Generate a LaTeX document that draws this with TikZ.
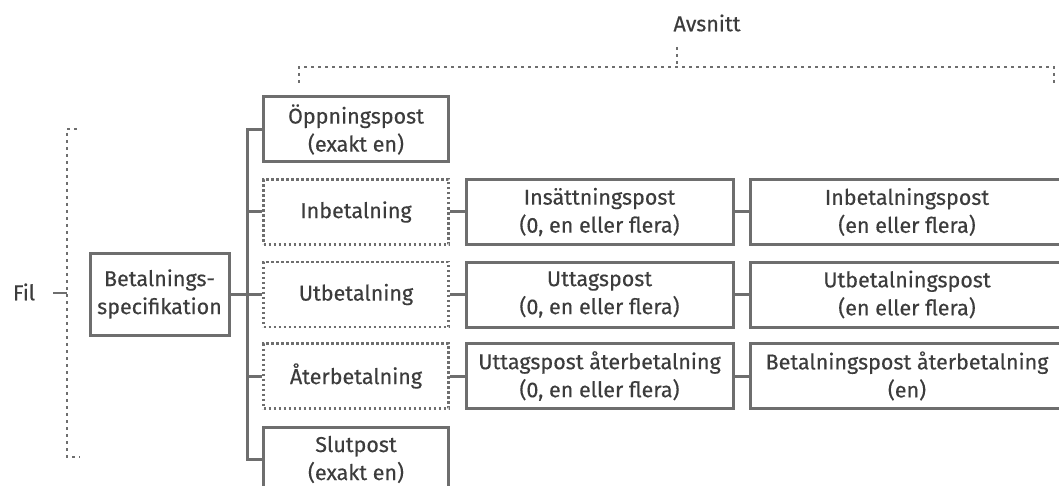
\documentclass[tikz,border=0pt]{standalone}
\usepackage{fontspec}
\setmainfont{Fira Sans}[FakeBold=0.35]
\definecolor{linegray}{HTML}{6E6E6E}
\definecolor{textgray}{HTML}{3C3C3C}
\begin{document}
\begin{tikzpicture}[x=1pt,y=-1pt,
  every node/.style={text=textgray,font=\fontsize{21.5}{28}\selectfont},
  box/.style={draw=linegray,line width=3pt,rectangle,inner sep=0pt,align=center,minimum height=65pt},
  colA/.style={box,minimum width=185pt},
  colB/.style={box,minimum width=267pt},
  colC/.style={box,minimum width=314pt},
  optbox/.style={colA,line width=2.6pt,dash pattern=on 2.4pt off 2.6pt},
  conn/.style={draw=linegray,line width=3pt},
  brk/.style={draw=linegray,line width=2.8pt,dash pattern=on 2.8pt off 4.2pt}]
\useasboundingbox (0,0) rectangle (1059,486);
% labels
\node (avsnitt) at (707,23) {Avsnitt};
\node (fil) at (24,292) {Fil};
% left main box
\node[box,minimum width=139pt,minimum height=82pt] (bs) at (159.5,294) {Betalnings-\\specifikation};
% column A
\node[colA] (op) at (356,129.5) {Öppningspost\\(exakt en)};
\node[optbox] (inb) at (356,212) {Inbetalning};
\node[optbox] (utb) at (356,294.5) {Utbetalning};
\node[optbox] (ater) at (356,376) {Återbetalning};
\node[colA] (slut) at (356,459.5) {Slutpost\\(exakt en)};
% column B
\node[colB] (ins) at (599.5,212) {Insättningspost\\(0, en eller flera)};
\node[colB] (utt) at (599.5,294.5) {Uttagspost\\(0, en eller flera)};
\node[colB] (utta) at (599.5,376) {Uttagspost återbetalning\\(0, en eller flera)};
% column C
\node[colC] (inp) at (907,212) {Inbetalningspost\\(en eller flera)};
\node[colC] (utp) at (907,294.5) {Utbetalningspost\\(en eller flera)};
\node[colC] (bpa) at (907,376) {Betalningspost återbetalning\\(en)};
% trunk
\coordinate (tt) at (247,129.5);
\coordinate (tb) at (247,459.5);
\coordinate (tm) at (247,294);
\draw[conn] (op.west) -- (tt) -- (tb) -- (slut.west);
\draw[conn] (bs.east) -- (tm);
\draw[conn] (247,212) -- (inb.west);
\draw[conn] (247,294.5) -- (utb.west);
\draw[conn] (247,376) -- (ater.west);
% rows
\draw[conn] (inb.east) -- (ins.west);
\draw[conn] (utb.east) -- (utt.west);
\draw[conn] (ater.east) -- (utta.west);
\draw[conn] (ins.east) -- (inp.west);
\draw[conn] (utt.east) -- (utp.west);
\draw[conn] (utta.east) -- (bpa.west);
% Avsnitt bracket
\coordinate (al) at (299,83);
\coordinate (ar) at (1054,83);
\coordinate (am) at (677,47);
\draw[brk] (al) -- (299,67) -- (1054,67) -- (ar);
\draw[brk] (am) -- (677,67);
% Fil bracket
\coordinate (ft) at (77,129);
\coordinate (fb) at (80,457);
\draw[brk] (ft) -- (67,129) -- (67,457) -- (fb);
\coordinate (fd) at (53,293);
\draw[draw=linegray,line width=2.6pt] (fd) -- (67,293);
\end{tikzpicture}
\end{document}
